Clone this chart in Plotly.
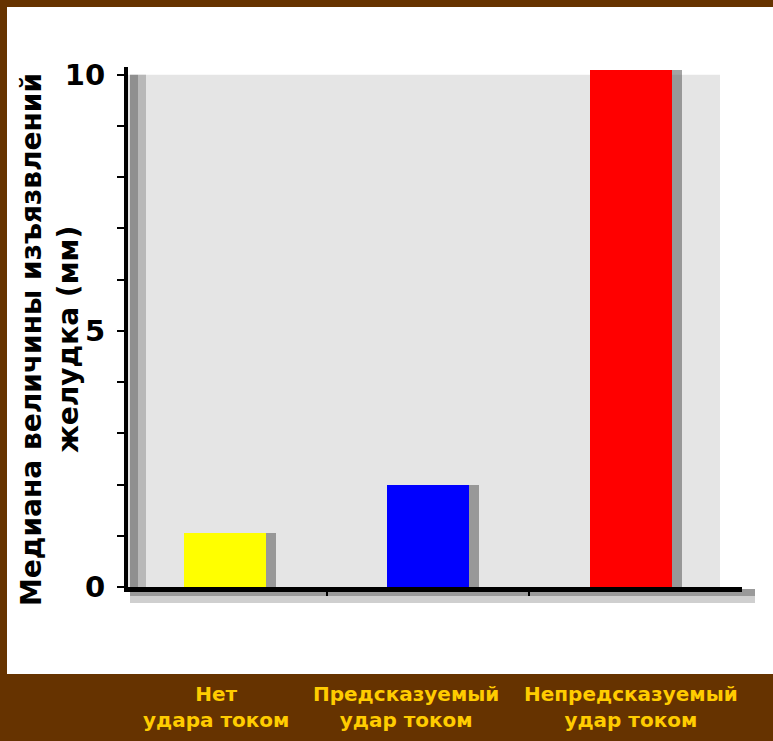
import plotly.graph_objects as go

# ---- data ----
categories = ["Нет<br>удара током", "Предсказуемый<br>удар током", "Непредсказуемый<br>удар током"]
values = [1.05, 2.0, 10.1]
bar_colors = ["#FFFF00", "#0000FF", "#FF0000"]
y_tick_vals = list(range(0, 11))
y_tick_text = ["0", "", "", "", "", "5", "", "", "", "", "10"]
y_title_lines = ["Медиана величины изъязвлений", "желудка (мм)"]

W, H = 773, 741
L, R, T, B = 128, 31, 67, 154
pw, ph = W - L - R, H - T - B

def px_x(p):  # pixel -> paper x
    return (p - L) / pw

def px_y(p):  # pixel -> paper y
    return (H - B - p) / ph

FONT = "DejaVu Sans"
xpos = list(range(len(categories)))
bar_w = 0.40
shadow_dx = 0.05

fig = go.Figure()
# shadows
fig.add_trace(go.Bar(
    x=xpos, y=values, width=bar_w, offset=-bar_w / 2 + shadow_dx,
    marker=dict(color="rgba(90,90,90,0.55)", line=dict(width=0)),
    hoverinfo="skip", showlegend=False))
# bars
fig.add_trace(go.Bar(
    x=xpos, y=values, width=bar_w, offset=-bar_w / 2,
    marker=dict(color=bar_colors, line=dict(width=0)),
    showlegend=False))

shapes = [
    # white panel
    dict(type="rect", xref="paper", yref="paper", x0=px_x(7), x1=px_x(800),
         y0=px_y(674), y1=px_y(7), fillcolor="white", line=dict(width=0), layer="below"),
    # gray plot panel
    dict(type="rect", xref="paper", yref="y", x0=0, x1=px_x(720), y0=0, y1=10,
         fillcolor="#e5e5e5", line=dict(width=0), layer="below"),
    # shadow beside y axis
    dict(type="rect", xref="paper", yref="y", x0=px_x(130), x1=px_x(138), y0=0, y1=10,
         fillcolor="#8f8f8f", line=dict(width=0), layer="below"),
    dict(type="rect", xref="paper", yref="y", x0=px_x(138), x1=px_x(146), y0=0, y1=10,
         fillcolor="#b8b8b8", line=dict(width=0), layer="below"),
    # shadow under x axis
    dict(type="rect", xref="paper", yref="paper", x0=px_x(130), x1=px_x(755),
         y0=px_y(596), y1=px_y(589), fillcolor="#9a9a9a", line=dict(width=0), layer="below"),
    dict(type="rect", xref="paper", yref="paper", x0=px_x(130), x1=px_x(755),
         y0=px_y(603), y1=px_y(596), fillcolor="#cfcfcf", line=dict(width=0), layer="below"),
]

label_shift = [-9, -22, 0]
annotations = []
for i, c in enumerate(categories):
    annotations.append(dict(
        x=i, xref="x", y=px_y(707), yref="paper", text=c, showarrow=False,
        xanchor="center", yanchor="middle", xshift=label_shift[i], align="center",
        font=dict(family=FONT, size=20, color="#FFCC00", weight="bold")))

for line, cx in zip(y_title_lines, [31, 68]):
    annotations.append(dict(
        x=px_x(cx), xref="paper", y=px_y(340), yref="paper", text=line, showarrow=False,
        textangle=-90, xanchor="center", yanchor="middle",
        font=dict(family=FONT, size=28, color="black", weight="bold")))

fig.update_layout(
    width=W, height=H,
    margin=dict(l=L, r=R, t=T, b=B, pad=0),
    paper_bgcolor="#663300",
    plot_bgcolor="rgba(0,0,0,0)",
    barmode="overlay",
    bargap=0,
    shapes=shapes,
    annotations=annotations,
    xaxis=dict(
        range=[-0.478, 2.547], showgrid=False, zeroline=False,
        showline=True, linecolor="black", linewidth=5,
        tickvals=[0.5, 1.5], ticktext=["", ""], ticks="outside",
        ticklen=4, tickwidth=2, tickcolor="black", fixedrange=True),
    yaxis=dict(
        range=[0, 10.15], showgrid=False, zeroline=False,
        showline=True, linecolor="black", linewidth=4,
        tickvals=y_tick_vals, ticktext=y_tick_text, ticks="outside",
        ticklen=7, tickwidth=2, tickcolor="black", ticklabelstandoff=6,
        tickfont=dict(family=FONT, size=29, color="black", weight="bold"),
        fixedrange=True),
)

fig.write_html(
    "out.html",
    config={"displayModeBar": False},
    post_script="document.body.style.margin='0';document.body.style.background='#663300';",
)
